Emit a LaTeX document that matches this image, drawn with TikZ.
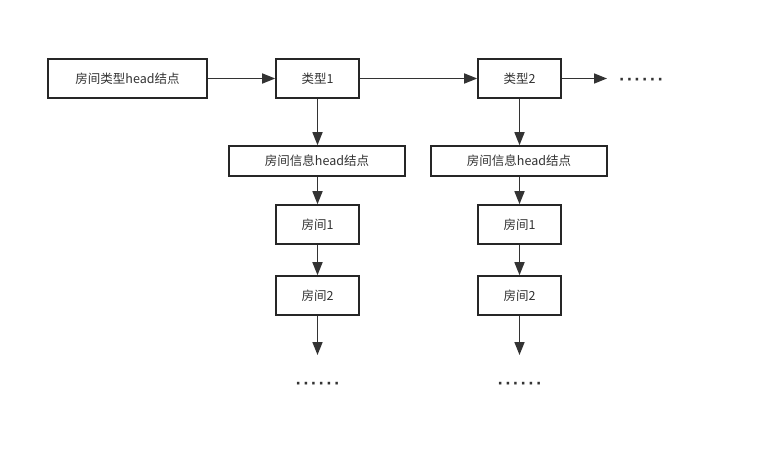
\documentclass[tikz,border=0pt]{standalone}
\usepackage{fontspec}
\setmainfont{Noto Sans CJK SC}
\newfontfamily\dotfont{DejaVu Sans}
\usetikzlibrary{arrows.meta,positioning}
\definecolor{linegray}{HTML}{333333}
\newcommand{\moredots}{\dotfont\bfseries·\kern2.4pt·\kern2.4pt·\kern2.4pt·\kern2.4pt·\kern2.4pt·}

\begin{document}
\begin{tikzpicture}[
  x=1pt, y=-1pt,
  font=\fontsize{12.5}{14}\selectfont,
  text=linegray,
  listbox/.style={rectangle, draw=black!85, line width=1.6pt, fill=white, minimum width=83pt, minimum height=39pt, inner sep=0pt, align=center},
  headbox/.style={listbox, minimum width=176pt, minimum height=30pt},
  arrow/.style={-{Triangle[length=13pt, width=10pt]}, line width=1.6pt, linegray},
  more/.style={font=\fontsize{14}{16}\selectfont, inner sep=0pt, anchor=base},
]
\useasboundingbox (0,0) rectangle (783,455);

% type list
\node[listbox, minimum width=159pt] (typehead) at (127.5,78.5) {房间类型head结点};
\node[listbox] (type1) at (317.5,78.5) {类型1};
\node[listbox] (type2) at (519.5,78.5) {类型2};
\coordinate (typeend) at (607,78.5);
\node[more] (typemore) at (641,84) {\moredots};

% room lists
\node[headbox] (info1) at (317,161) {房间信息head结点};
\node[headbox] (info2) at (519,161) {房间信息head结点};
\node[listbox] (room11) at (317.5,224.5) {房间1};
\node[listbox] (room12) at (317.5,295.5) {房间2};
\node[listbox] (room21) at (519.5,224.5) {房间1};
\node[listbox] (room22) at (519.5,295.5) {房间2};
\coordinate (end1) at (317.5,355);
\coordinate (end2) at (519.5,355);
\node[more] (more1) at (317.5,388) {\moredots};
\node[more] (more2) at (519.5,388) {\moredots};

\draw[arrow] (typehead) -- (type1);
\draw[arrow] (type1) -- (type2);
\draw[arrow] (type2) -- (typeend);
\draw[arrow] (type1) -- (type1 |- info1.north);
\draw[arrow] (type1 |- info1.south) -- (room11);
\draw[arrow] (room11) -- (room12);
\draw[arrow] (room12) -- (end1);
\draw[arrow] (type2) -- (type2 |- info2.north);
\draw[arrow] (type2 |- info2.south) -- (room21);
\draw[arrow] (room21) -- (room22);
\draw[arrow] (room22) -- (end2);

\end{tikzpicture}
\end{document}
